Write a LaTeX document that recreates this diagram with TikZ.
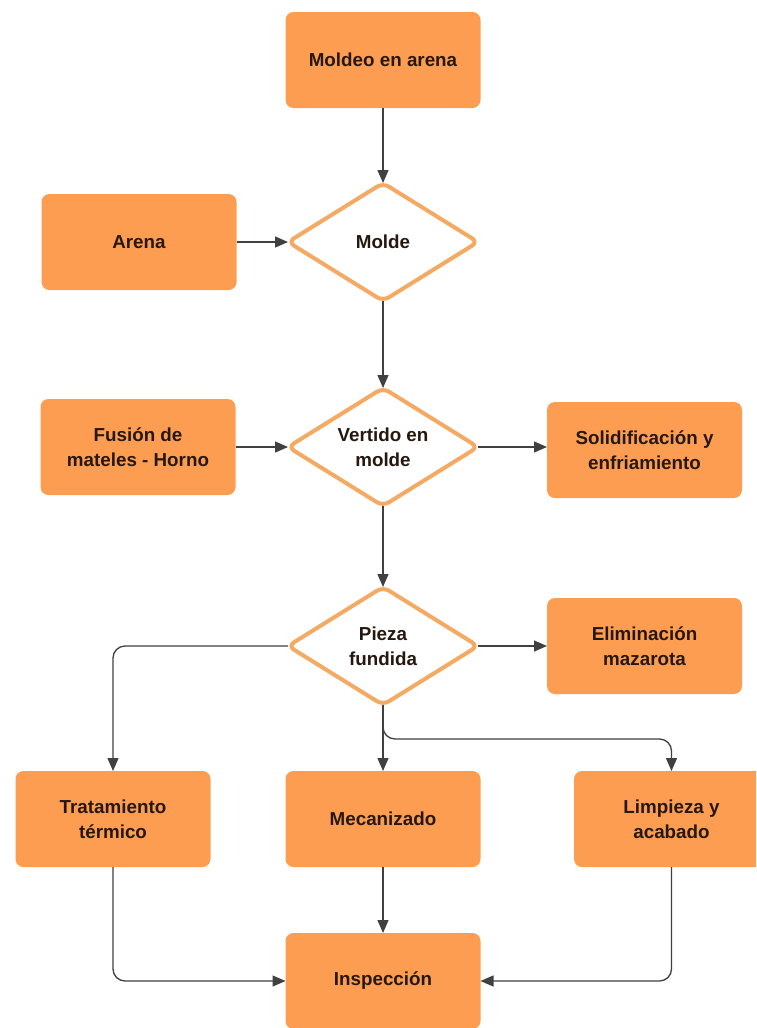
\documentclass[tikz,border=0pt]{standalone}
\usepackage{fontspec}
\setmainfont{Liberation Sans}
\usetikzlibrary{shapes.geometric,arrows.meta}
\definecolor{boxfill}{RGB}{253,157,82}
\definecolor{dborder}{RGB}{245,170,100}
\definecolor{txt}{RGB}{38,24,14}
\definecolor{conn}{RGB}{64,64,64}
\begin{document}
\begin{tikzpicture}[x=1pt,y=-1pt,
  lbl/.style={font=\bfseries\fontsize{18.8}{25}\selectfont, text=txt, align=center},
  box/.style={lbl, rectangle, rounded corners=8pt, fill=boxfill, minimum width=195pt, minimum height=96pt, inner sep=0pt, outer sep=0pt},
  dia/.style={lbl, diamond, draw=dborder, line width=4pt, fill=white, aspect=1.6, minimum width=190pt, minimum height=118pt, rounded corners=7pt, inner sep=0pt, outer sep=0pt},
  arr/.style={draw=conn, line width=1.3pt, -{Triangle[length=13pt,width=11pt]}, rounded corners=12pt}]
\useasboundingbox (0,0) rectangle (756,1028);
\clip (0,0) rectangle (756,1028);
\fill[white] (0,0) rectangle (756,1028);

\node[box] (moldeo) at (383,60) {Moldeo en arena};
\node[box] (arena) at (139,242) {Arena};
\node[dia] (molde) at (383,242) {Molde};
\node[box] (fusion) at (138,447) {Fusión de\\mateles - Horno};
\node[dia] (vertido) at (383,447) {Vertido en\\molde};
\node[box] (solid) at (644.5,450) {Solidificación y\\enfriamiento};
\node[dia] (pieza) at (383,646) {Pieza\\fundida};
\node[box] (elim) at (644.5,646) {Eliminación\\mazarota};
\node[box] (trat) at (113,819) {Tratamiento\\térmico};
\node[box] (mec) at (383,819) {Mecanizado};
\node[box] (limp) at (671.5,819) {Limpieza y\\acabado};
\node[box] (insp) at (383,981) {Inspección};

\draw[arr] (moldeo.south) -- (molde.north);
\draw[arr] (arena.east) -- (molde.west);
\draw[arr] (molde.south) -- (vertido.north);
\draw[arr] (fusion.east) -- (vertido.west);
\draw[arr] (vertido.east) -- (solid.west |- vertido.east);
\draw[arr] (vertido.south) -- (pieza.north);
\draw[arr] (pieza.east) -- (elim.west |- pieza.east);
\draw[arr] (pieza.west) -| (trat.north);
\draw[arr] (pieza.south) -- (mec.north);
\draw[arr] (pieza.south) -- ++(0,-34pt) -| (limp.north);
\draw[arr] (trat.south) |- (insp.west);
\draw[arr] (mec.south) -- (insp.north);
\draw[arr] (limp.south) |- (insp.east);
\end{tikzpicture}
\end{document}
